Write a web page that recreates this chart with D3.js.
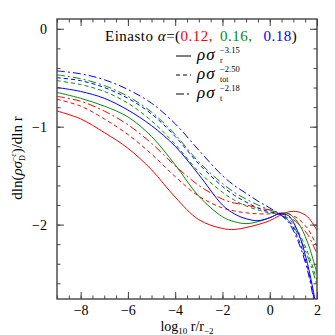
<!DOCTYPE html>
<html>
<head>
<meta charset="utf-8">
<script src="https://cdn.jsdelivr.net/npm/d3@7"></script>
<style>
  body { margin: 0; background: #fff; }
  text { font-family: "Liberation Serif", "DejaVu Serif", serif; }
</style>
</head>
<body>
<script>
// sample points in log10 r/r_-2
const xs = [-9, -8, -7, -6, -5, -4, -3, -2, -1.5, -1, -0.5, 0, 0.4, 0.8, 1.2, 1.6, 2];

// alpha = 0.12 (red)
const redR   = [-0.84, -0.92, -1.06, -1.22, -1.44, -1.72, -1.95, -2.04, -2.05, -2.03, -2.00, -1.96, -1.91, -1.87, -1.87, -1.92, -2.06];
const redTot = [-0.72, -0.79, -0.92, -1.08, -1.28, -1.51, -1.71, -1.83, -1.86, -1.88, -1.89, -1.89, -1.88, -1.89, -1.94, -2.04, -2.22];
const redT   = [-0.69, -0.74, -0.84, -0.98, -1.17, -1.40, -1.60, -1.74, -1.78, -1.80, -1.83, -1.85, -1.88, -1.92, -1.99, -2.10, -2.30];
// alpha = 0.16 (green)
const greenR   = [-0.65, -0.71, -0.79, -0.90, -1.10, -1.39, -1.71, -1.92, -1.97, -1.99, -1.97, -1.93, -1.89, -1.89, -1.98, -2.18, -2.50];
const greenTot = [-0.53, -0.57, -0.64, -0.76, -0.94, -1.18, -1.46, -1.67, -1.75, -1.81, -1.85, -1.88, -1.89, -1.94, -2.07, -2.28, -2.57];
const greenT   = [-0.47, -0.51, -0.58, -0.69, -0.85, -1.08, -1.36, -1.58, -1.67, -1.74, -1.80, -1.85, -1.89, -1.96, -2.10, -2.32, -2.62];
// alpha = 0.18 (blue)
const blueR   = [-0.60, -0.64, -0.71, -0.83, -0.99, -1.20, -1.49, -1.80, -1.89, -1.94, -1.96, -1.93, -1.89, -1.91, -2.08, -2.40, -2.88];
const blueTot = [-0.50, -0.53, -0.60, -0.71, -0.87, -1.10, -1.38, -1.61, -1.70, -1.77, -1.83, -1.87, -1.89, -1.96, -2.14, -2.44, -2.92];
const blueT   = [-0.43, -0.46, -0.52, -0.62, -0.76, -0.97, -1.24, -1.50, -1.60, -1.68, -1.76, -1.83, -1.89, -1.98, -2.17, -2.47, -2.95];

const xTickLabels = [-8, -6, -4, -2, 0, 2];
const yTickLabels = [0, -1, -2];
const alphas = ["0.12,", "0.16,", "0.18"];

const RED = "#ff0000", GREEN = "#0a8a0a", BLUE = "#0000ff";
const SOLID = null, SHORT = "4,3", LONG = "8,3,2,3";

const series = [
  { y: redR, c: RED, d: SOLID }, { y: redTot, c: RED, d: SHORT }, { y: redT, c: RED, d: LONG },
  { y: greenR, c: GREEN, d: SOLID }, { y: greenTot, c: GREEN, d: SHORT }, { y: greenT, c: GREEN, d: LONG },
  { y: blueR, c: BLUE, d: SOLID }, { y: blueTot, c: BLUE, d: SHORT }, { y: blueT, c: BLUE, d: LONG }
];

const W = 335, H = 335;
const pLeft = 57, pRight = 317, pTop = 19, pBottom = 299;

const svg = d3.select("body").append("svg").attr("width", W).attr("height", H);

const x = d3.scaleLinear().domain([-9, 2]).range([pLeft, pRight]);
const y = d3.scaleLinear().domain([-2.76, 0.1]).range([pBottom, pTop]);

// clip for curves
svg.append("clipPath").attr("id", "clip")
  .append("rect").attr("x", pLeft).attr("y", pTop).attr("width", pRight - pLeft).attr("height", pBottom - pTop);

const line = d3.line()
  .x((d, i) => x(xs[i]))
  .y(d => y(d))
  .curve(d3.curveCatmullRom.alpha(0.5));

const g = svg.append("g").attr("clip-path", "url(#clip)");
series.forEach(s => {
  g.append("path")
    .attr("d", line(s.y))
    .attr("fill", "none")
    .attr("stroke", s.c)
    .attr("stroke-width", 1)
    .attr("stroke-dasharray", s.d);
});

// ticks: minor + major on all four sides
const xMinor = d3.range(-9, 2.01, 0.5);
const yMinor = d3.range(-2.6, 0.01, 0.2).map(v => Math.round(v * 10) / 10);

function addAxis(axis, tf) {
  const a = svg.append("g").attr("transform", tf).call(axis);
  a.select(".domain").remove();
  a.selectAll("line").attr("stroke", "#444");
  return a;
}
addAxis(d3.axisBottom(x).tickValues(xMinor).tickSize(-3.5).tickFormat(""), `translate(0,${pBottom})`);
addAxis(d3.axisTop(x).tickValues(xMinor).tickSize(-3.5).tickFormat(""), `translate(0,${pTop})`);
addAxis(d3.axisLeft(y).tickValues(yMinor).tickSize(-3.5).tickFormat(""), `translate(${pLeft},0)`);
addAxis(d3.axisRight(y).tickValues(yMinor).tickSize(-3.5).tickFormat(""), `translate(${pRight},0)`);

const fmt = d => d < 0 ? "\u2212" + Math.abs(d) : String(d);
addAxis(d3.axisBottom(x).tickValues(xTickLabels).tickSize(-7).tickPadding(6).tickFormat(fmt), `translate(0,${pBottom})`);
addAxis(d3.axisTop(x).tickValues(xTickLabels).tickSize(-7).tickFormat(""), `translate(0,${pTop})`);
addAxis(d3.axisLeft(y).tickValues(yTickLabels).tickSize(-7).tickPadding(10).tickFormat(fmt), `translate(${pLeft},0)`);
addAxis(d3.axisRight(y).tickValues(yTickLabels).tickSize(-7).tickFormat(""), `translate(${pRight},0)`);
svg.selectAll(".tick text").attr("font-family", "Liberation Serif, serif").attr("font-size", 14).attr("fill", "#000");

// frame
svg.append("rect").attr("x", pLeft).attr("y", pTop).attr("width", pRight - pLeft).attr("height", pBottom - pTop)
  .attr("fill", "none").attr("stroke", "#444").attr("stroke-width", 1.4);

// title with alpha values
const t = svg.append("text").attr("x", 105).attr("y", 41).attr("font-size", 15).attr("letter-spacing", 0.5);
t.append("tspan").text("Einasto ");
t.append("tspan").attr("font-style", "italic").text("\u03b1");
t.append("tspan").text("=(");
t.append("tspan").attr("fill", RED).text(alphas[0]);
t.append("tspan").attr("fill", GREEN).attr("dx", 7).text(alphas[1]);
t.append("tspan").attr("fill", BLUE).attr("dx", 11).text(alphas[2]);
t.append("tspan").text(")");

// legend
const legend = [
  { sub: "r", sup: "\u22123.15", d: SOLID, yy: 60 },
  { sub: "tot", sup: "\u22122.50", d: SHORT, yy: 79 },
  { sub: "t", sup: "\u22122.18", d: LONG, yy: 98 }
];
legend.forEach(l => {
  svg.append("line").attr("x1", 176).attr("x2", 191).attr("y1", l.yy - 4).attr("y2", l.yy - 4)
    .attr("stroke", "#000").attr("stroke-width", 1).attr("stroke-dasharray", l.d);
  svg.append("text").attr("x", 197).attr("y", l.yy).attr("font-size", 17).attr("font-style", "italic")
    .attr("letter-spacing", 1).text("\u03c1\u03c3");
  svg.append("text").attr("x", 220).attr("y", l.yy + 3).attr("font-size", 8).text(l.sub);
  svg.append("text").attr("x", 220).attr("y", l.yy - 7).attr("font-size", 8.5).text(l.sup);
});

// x axis title
const xt = svg.append("text").attr("x", 187).attr("y", 331).attr("text-anchor", "middle").attr("font-size", 14);
xt.append("tspan").text("log");
xt.append("tspan").attr("font-size", 9).attr("dy", 3).text("10");
xt.append("tspan").attr("dy", -3).text(" r/r");
xt.append("tspan").attr("font-size", 9).attr("dy", 3).text("\u22122");

// y axis title
const yt = svg.append("text").attr("transform", "translate(22,158) rotate(-90)")
  .attr("text-anchor", "middle").attr("font-size", 15);
yt.append("tspan").text("dln(");
yt.append("tspan").attr("font-style", "italic").text("\u03c1\u03c3");
yt.append("tspan").attr("font-size", 8).attr("dy", 3).text("D");
yt.append("tspan").attr("font-size", 8).attr("dx", -6).attr("dy", -9).text("\u2212\u03b5");
yt.append("tspan").attr("dy", 6).text(")/dln r");
</script>
</body>
</html>
